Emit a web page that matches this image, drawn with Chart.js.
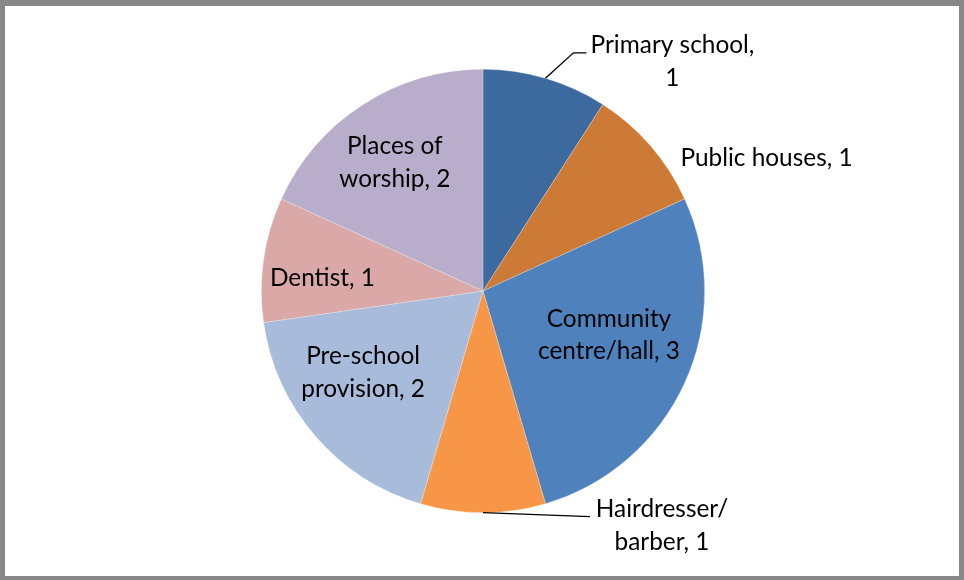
<!DOCTYPE html>
<html><head><meta charset="utf-8">
<script src="https://cdn.jsdelivr.net/npm/chart.js@4/dist/chart.umd.min.js"></script>
<style>
html,body{margin:0;padding:0;background:#fff;}
#wrap{position:relative;width:964px;height:580px;overflow:hidden;background:#fff;}
#frame{position:absolute;left:0;top:0;width:964px;height:580px;box-sizing:border-box;border:5px solid #878787;border-top-width:6px;border-bottom-width:4px;pointer-events:none;}
canvas{position:absolute;left:0;top:0;}
</style></head><body>
<div id="wrap"><canvas id="c" width="964" height="580"></canvas><div id="frame"></div></div>
<script>
// Facilities in the area, counted by type
const categories = ['Primary school', 'Public houses', 'Community centre/hall', 'Hairdresser/barber', 'Pre-school provision', 'Dentist', 'Places of worship'];
const counts = [1, 1, 3, 1, 2, 1, 2];
const sliceColors = ['#3D6A9E', '#CC7A36', '#4F81BD', '#F79646', '#A9BBDB', '#DAA8A7', '#B8AECB'];

// Where each data label sits: r = fraction of the radius along the slice's mid angle,
// dx/dy = nudge in pixels, leader = elbow points relative to the slice edge,
// brk = text after which the label wraps onto a second line
const placement = [
  {r: 1,     dx: 127, dy: -17.5, leader: [[28, -25.5], [41, -25.5]], brk: 'Primary school,'},
  {r: 1,     dx: 116, dy: 11},
  {r: 0.62,  dx: 1,   dy: -14, brk: 'Community'},
  {r: 1,     dx: 179, dy: 12, leader: [[107, 4]], brk: 'Hairdresser/'},
  {r: 0.65,  dx: -11, dy: -13.5, brk: 'Pre-school'},
  {r: 0.732, dx: 0,   dy: 9},
  {r: 0.694, dx: -5,  dy: 0, brk: 'Places of'}
];

const FONT_SIZE = 24.4;
const LINE_H = 32.5;

const pieLabels = {
  id: 'pieLabels',
  afterDatasetsDraw(chart) {
    const ctx = chart.ctx;
    const meta = chart.getDatasetMeta(0);
    ctx.save();
    ctx.font = FONT_SIZE + 'px Lato';
    ctx.fillStyle = '#000';
    ctx.textAlign = 'center';
    ctx.textBaseline = 'alphabetic';
    meta.data.forEach((arc, i) => {
      const p = arc.getProps(['x', 'y', 'startAngle', 'endAngle', 'outerRadius'], true);
      const mid = (p.startAngle + p.endAngle) / 2;
      const cfg = placement[i];
      const ex = p.x + Math.cos(mid) * p.outerRadius;
      const ey = p.y + Math.sin(mid) * p.outerRadius;
      const bx = p.x + Math.cos(mid) * p.outerRadius * cfg.r + cfg.dx;
      const by = p.y + Math.sin(mid) * p.outerRadius * cfg.r + cfg.dy;
      if (cfg.leader) {
        ctx.beginPath();
        ctx.strokeStyle = '#000';
        ctx.lineWidth = 1.3;
        ctx.moveTo(ex, ey);
        cfg.leader.forEach(([lx, ly]) => ctx.lineTo(ex + lx, ey + ly));
        ctx.stroke();
      }
      const text = categories[i] + ', ' + chart.data.datasets[0].data[i];
      let lines = [text];
      if (cfg.brk && text.startsWith(cfg.brk)) {
        lines = [cfg.brk, text.slice(cfg.brk.length).trim()];
      }
      const top = by - (lines.length - 1) * LINE_H / 2;
      const capMid = FONT_SIZE * 0.36;
      lines.forEach((ln, k) => ctx.fillText(ln, bx, top + k * LINE_H + capMid));
    });
    ctx.restore();
  }
};

new Chart(document.getElementById('c'), {
  type: 'pie',
  data: {
    labels: categories,
    datasets: [{
      data: counts,
      backgroundColor: sliceColors,
      borderColor: 'rgba(255,255,255,0.35)',
      borderWidth: 0.7
    }]
  },
  options: {
    responsive: false,
    animation: false,
    layout: {padding: {top: 69, bottom: 67, left: 2, right: 0}},
    plugins: {legend: {display: false}, tooltip: {enabled: false}}
  },
  plugins: [pieLabels]
});
</script>
</body></html>
